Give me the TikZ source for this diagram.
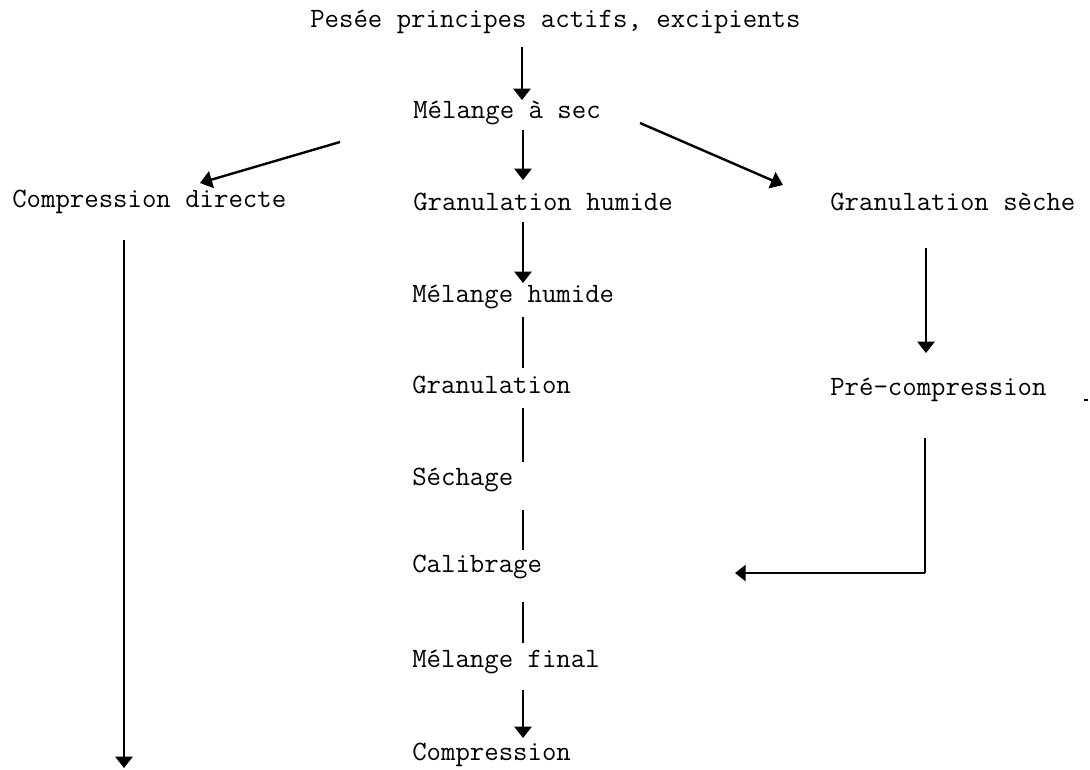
\documentclass[tikz,border=0pt]{standalone}
\usepackage{fontspec}
\usetikzlibrary{arrows.meta,calc}

\begin{document}
\begin{tikzpicture}[x=0.75pt,y=-0.75pt,
  label/.style={anchor=base west,inner sep=0pt,font=\fontsize{21}{25}\selectfont\ttfamily\addfontfeatures{FakeBold=0.6}},
  link/.style={line width=1.1pt},
  flow/.style={line width=1.1pt,-{Triangle[width=13pt,length=8.5pt]}},
  slant/.style={line width=1.8pt,-{Triangle[width=13pt,length=9pt]}},
  heavy/.style={line width=2.2pt,-{Triangle[width=12pt,length=8pt]}}]

  % page
  \fill[white] (0,0) rectangle (1090,769);
  \useasboundingbox (0,0) rectangle (1090,769);

  % steps
  \node[label] (pesee) at (310,27)  {Pesée principes actifs, excipients};
  \node[label] (melsec) at (413,118) {Mélange à sec};
  \node[label] (cdir)  at (12,207)  {Compression directe};
  \node[label] (ghum)  at (413,210) {Granulation humide};
  \node[label] (gsec)  at (830,210) {Granulation sèche};
  \node[label] (mhum)  at (412,302) {Mélange humide};
  \node[label] (gran)  at (412,393) {Granulation};
  \node[label] (pcomp) at (830,395) {Pré-compression};
  \node[label] (sech)  at (412,485) {Séchage};
  \node[label] (calib) at (412,572) {Calibrage};
  \node[label] (mfin)  at (412,667) {Mélange final};
  \node[label] (comp)  at (412,760) {Compression};

  % central column
  \draw[flow] ($(pesee.base west)+(212,20)$) -- ($(melsec.base west)+(109,-18)$);
  \draw[flow] ($(melsec.base west)+(110,12)$) -- ($(ghum.base west)+(110,-30)$);
  \draw[flow] ($(ghum.base west)+(110,12)$) -- ($(mhum.base west)+(111,-19)$);
  \draw[link] ($(mhum.base west)+(111,15)$) -- ($(gran.base west)+(111,-25)$);
  \draw[link] ($(gran.base west)+(111,15)$) -- ($(sech.base west)+(111,-23)$);
  \draw[link] ($(sech.base west)+(111,25)$) -- ($(calib.base west)+(111,-22)$);
  \draw[link] ($(calib.base west)+(111,30)$) -- ($(mfin.base west)+(111,-24)$);
  \draw[flow] ($(mfin.base west)+(111,23)$) -- ($(comp.base west)+(111,-22)$);

  % branches from the dry mix
  \draw[slant] ($(melsec.base west)+(-73,24)$) -- ($(cdir.base west)+(188,-24)$);
  \draw[slant] ($(melsec.base west)+(227,5)$) -- ($(gsec.base west)+(-47,-25)$);

  % direct compression
  \coordinate (cdirend) at (124,768);
  \draw[flow] ($(cdir.base west)+(112,33)$) -- (cdirend);

  % dry granulation
  \draw[flow] ($(gsec.base west)+(96,38)$) -- ($(pcomp.base west)+(96,-42)$);
  \coordinate (pcorner) at ($(pcomp.base west)+(95,178)$);
  \draw[link] ($(pcomp.base west)+(95,43)$) -- (pcorner);
  \draw[heavy] (pcorner) -- ($(calib.base west)+(323,1)$);

  % small mark beside the pre-compression step
  \coordinate (mk) at ($(pcomp.base west)+(254,5)$);
  \draw[line width=1pt] (mk) -- ++(4,0);
\end{tikzpicture}
\end{document}
